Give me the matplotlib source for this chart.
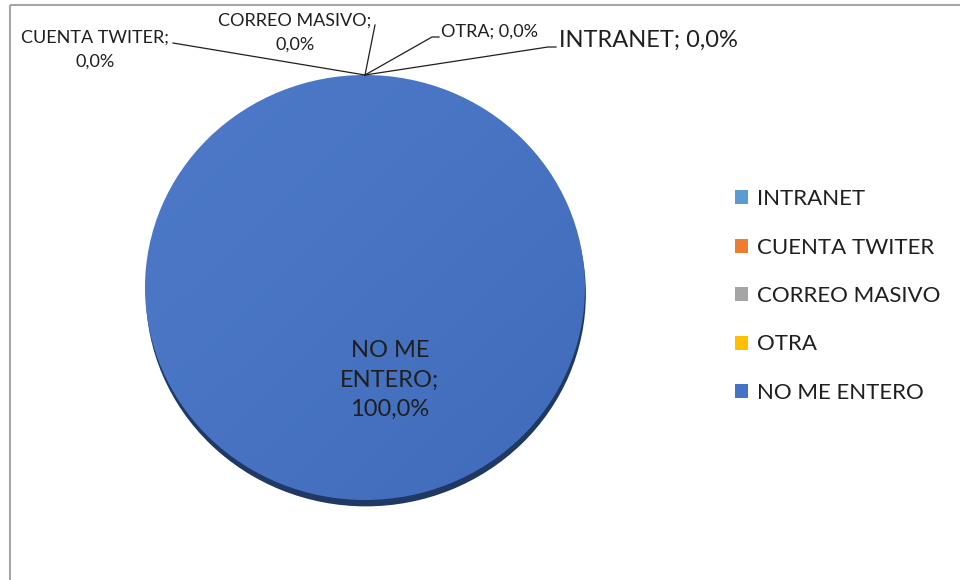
import numpy as np
import matplotlib.pyplot as plt
from matplotlib.patches import Rectangle, Patch

plt.rcParams['font.family'] = ['Lato', 'DejaVu Sans']

categorias = ['INTRANET', 'CUENTA TWITER', 'CORREO MASIVO', 'OTRA', 'NO ME ENTERO']
valores = [0.0, 0.0, 0.0, 0.0, 100.0]
colores = ['#5B9BD5', '#ED7D31', '#A5A5A5', '#FFC000', '#4472C4']

W, H = 960, 580
fig = plt.figure(figsize=(W / 100, H / 100), dpi=100)

# pie area (pixels): left, top, right, bottom
px0, py0, px1, py1 = 145, 75, 585, 500
ax_pie = fig.add_axes([px0 / W, 1 - py1 / H, (px1 - px0) / W, (py1 - py0) / H])

# dark rim underneath for the 3d look
rim, _ = ax_pie.pie([sum(valores)], colors=['#1F3864'], startangle=90,
                    counterclock=False, center=(0.004, -0.03), radius=1.0)
for w in rim:
    w.set_clip_on(False)

wedges, _ = ax_pie.pie(valores, colors=colores, startangle=90, counterclock=False,
                       radius=1.0, wedgeprops=dict(linewidth=0))
for w in wedges:
    w.set_clip_on(False)

# soft highlight on the top face
gy, gx = np.mgrid[-1:1:200j, -1:1:200j]
shade = np.clip(0.5 - 0.35 * (gx - gy), 0, 1)
img = ax_pie.imshow(shade, extent=(-1, 1, -1, 1), cmap='Greys_r', alpha=0.04,
                    vmin=0, vmax=1, origin='lower', zorder=3)
img.set_clip_path(wedges[-1])
ax_pie.set_xlim(-1, 1)
ax_pie.set_ylim(-1, 1)
ax_pie.set_aspect('auto')
ax_pie.axis('off')

# overlay in pixel coordinates for frame, labels and legend
ax = fig.add_axes([0, 0, 1, 1], facecolor='none')
ax.set_xlim(0, W)
ax.set_ylim(H, 0)
ax.axis('off')
ax.add_patch(Rectangle((10, 5), W, H, fill=False, edgecolor='#a6a6a6', lw=1.5))


def etiqueta(nombre, v, salto=True):
    txt = f"{v:.1f}".replace('.', ',') + '%'
    return f"{nombre};\n{txt}" if salto else f"{nombre}; {txt}"


# top of the pie, where the zero slices sit
tx, ty = ax.transData.inverted().transform(ax_pie.transData.transform((0, 1)))

tinta = '#1f1f1f'
texto = dict(color=tinta, fontsize=13)
ax.text(95, 50, etiqueta(categorias[1], valores[1]), ha='center', va='center',
        linespacing=1.6, **texto)
ax.plot([173, tx], [43, ty], color=tinta, lw=0.9)

ax.text(295, 33, etiqueta(categorias[2], valores[2]), ha='center', va='center',
        linespacing=1.6, **texto)
ax.plot([375, tx], [25, ty], color=tinta, lw=0.9)

ax.text(441, 32, etiqueta(categorias[3], valores[3], salto=False), ha='left',
        va='center', **texto)
ax.plot([439, 432, tx], [37, 37, ty], color=tinta, lw=0.9)

ax.text(559, 40, etiqueta(categorias[0], valores[0], salto=False), ha='left',
        va='center', color=tinta, fontsize=17)
ax.plot([556, 548, tx], [47, 47, ty], color=tinta, lw=0.9)

ax.text(390, 380, "NO ME\nENTERO;\n" + f"{valores[4]:.1f}".replace('.', ',') + '%',
        ha='center', va='center', color=tinta, fontsize=17, linespacing=1.5)

handles = [Patch(facecolor=c, edgecolor='none') for c in colores]
fig.legend(handles, categorias, loc='center left', bbox_to_anchor=(715 / W, 1 - 296 / H),
           frameon=False, fontsize=16, handlelength=0.6, handleheight=0.6,
           handletextpad=0.4, labelspacing=1.28, labelcolor=tinta)

fig.savefig('out.png', dpi=100)
